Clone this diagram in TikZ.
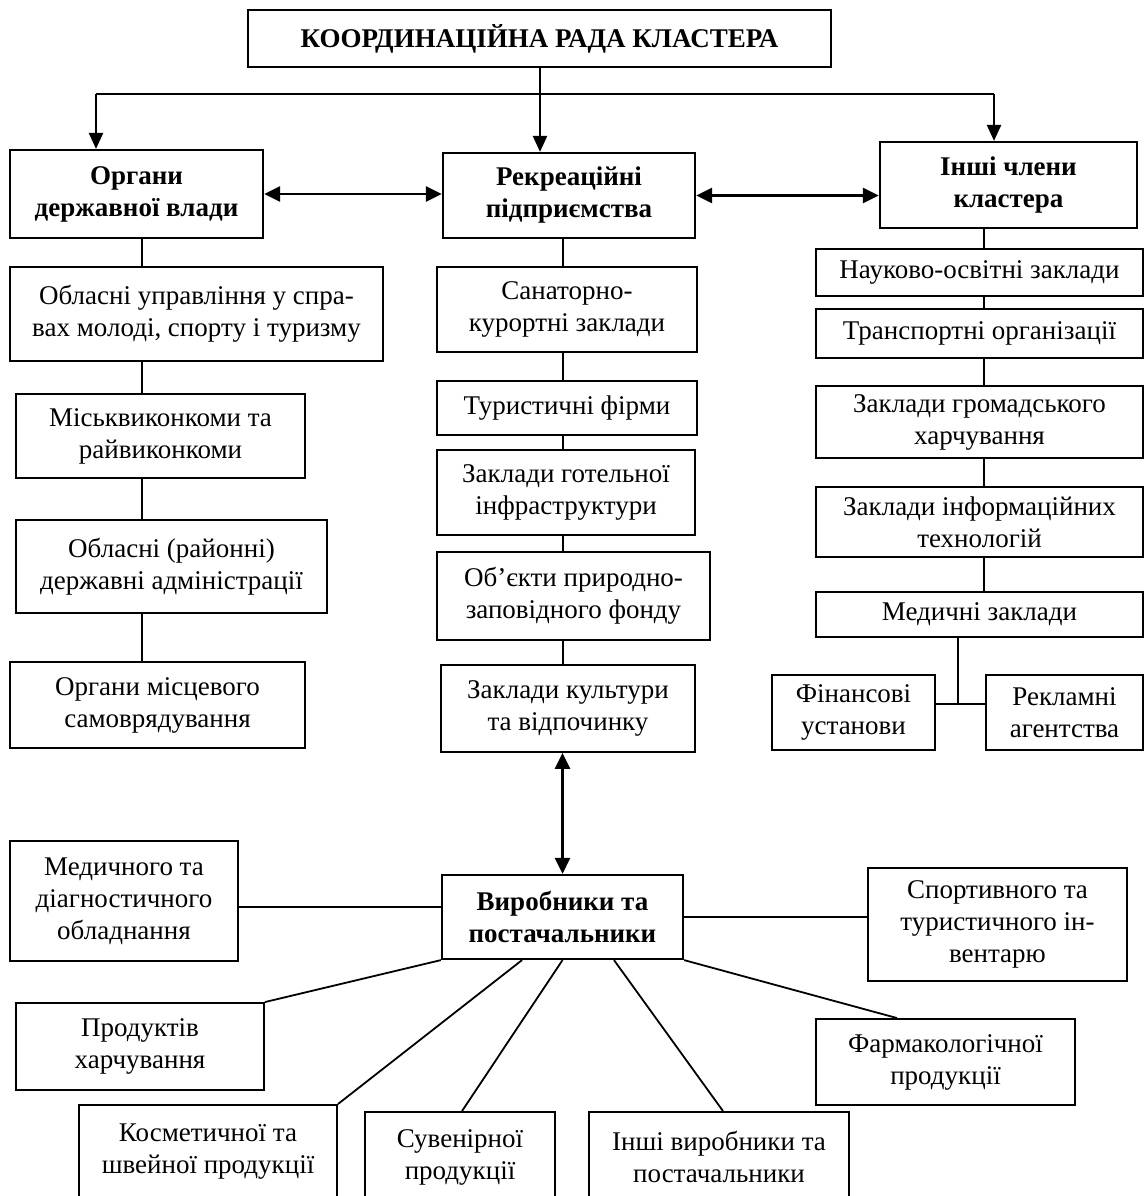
\documentclass[tikz,border=0pt]{standalone}
\usepackage{fontspec}
\setmainfont{Liberation Serif}
\usetikzlibrary{arrows.meta}
\begin{document}
\begin{tikzpicture}[x=1pt,y=-1pt,
  box/.style={draw, line width=1.9pt, align=center, inner sep=0pt, font=\fontsize{27}{32}\selectfont},
  bbox/.style={box, line width=2.2pt, font=\fontsize{27}{32}\selectfont\bfseries},
  ln/.style={line width=1.8pt},
  arr/.style={line width=2.4pt, -{Triangle[length=16pt,width=14pt]}},
  darr/.style={line width=2.8pt, {Triangle[length=16pt,width=15pt]}-{Triangle[length=16pt,width=15pt]}},
  btxt/.style={font=\fontsize{27}{32}\selectfont, align=center, inner sep=0pt},
]
\useasboundingbox (0,0) rectangle (1145,1196);

% top level
\node[bbox, minimum width=583pt, minimum height=57pt] (top) at (539.5,38.5) {КООРДИНАЦІЙНА РАДА КЛАСТЕРА};
\node[bbox, minimum width=253pt, minimum height=88pt] (og) at (136.5,194) {Органи\\державної влади};
\node[bbox, minimum width=252pt, minimum height=85pt] (rp) at (569,195.5) {Рекреаційні\\підприємства};
\node[bbox, minimum width=257pt, minimum height=86pt] (oth) at (1008.5,185) {Інші члени\\кластера};

\coordinate (bl) at (96,94);
\coordinate (bm) at (540,94);
\coordinate (brt) at (994,94);
\draw[ln, line width=2.2pt] (top.south -| bm) -- (bm);
\draw[ln, line width=2.2pt] (bl) -- (brt);
\draw[arr] (bl) -- (bl |- og.north);
\draw[arr] (bm) -- (bm |- rp.north);
\draw[arr] (brt) -- (brt |- oth.north);
\draw[darr] (og.east) -- (og.east -| rp.west);
\draw[darr] (rp.east) -- (rp.east -| oth.west);

% left column
\node[box, minimum width=373pt, minimum height=94pt] (l1) at (196.5,314) {Обласні управління у спра-\\вах молоді, спорту і туризму};
\node[box, minimum width=289pt, minimum height=84pt] (l2) at (160.5,436) {Міськвиконкоми та\\райвиконкоми};
\node[box, minimum width=311pt, minimum height=93pt] (l3) at (171.5,566.5) {Обласні (районні)\\державні адміністрації};
\node[box, minimum width=295pt, minimum height=86pt] (l4) at (157.5,705) {Органи місцевого\\самоврядування};
\coordinate (xl) at (142,0);
\draw[ln] (og.south -| xl) -- (l1.north -| xl);
\draw[ln] (l1.south -| xl) -- (l2.north -| xl);
\draw[ln] (l2.south -| xl) -- (l3.north -| xl);
\draw[ln] (l3.south -| xl) -- (l4.north -| xl);

% middle column
\node[box, minimum width=260pt, minimum height=85pt] (m1) at (567,309.5) {Санаторно-\\курортні заклади};
\node[box, minimum width=260pt, minimum height=54pt] (m2) at (567,408) {Туристичні фірми};
\node[box, minimum width=258pt, minimum height=85pt] (m3) at (566,492.5) {Заклади готельної\\інфраструктури};
\node[box, minimum width=273pt, minimum height=88pt] (m4) at (573.5,596) {Об’єкти природно-\\заповідного фонду};
\node[box, minimum width=254pt, minimum height=87pt] (m5) at (568,708.5) {Заклади культури\\та відпочинку};
\coordinate (xm) at (563,0);
\draw[ln] (rp.south -| xm) -- (m1.north -| xm);
\draw[ln] (m1.south -| xm) -- (m2.north -| xm);
\draw[ln] (m2.south -| xm) -- (m3.north -| xm);
\draw[ln] (m3.south -| xm) -- (m4.north -| xm);
\draw[ln] (m4.south -| xm) -- (m5.north -| xm);

% right column
\node[box, minimum width=327pt, minimum height=47pt] (r1) at (979.5,272.5) {Науково-освітні заклади};
\node[box, minimum width=327pt, minimum height=49pt] (r2) at (979.5,333.5) {Транспортні організації};
\node[box, minimum width=327pt, minimum height=72pt] (r3) at (979.5,422) {Заклади громадського\\харчування};
\node[box, minimum width=327pt, minimum height=70pt] (r4) at (979.5,522) {Заклади інформаційних\\технологій};
\node[box, minimum width=327pt, minimum height=45pt] (r5) at (979.5,614.5) {Медичні заклади};
\node[box, minimum width=163pt, minimum height=75pt] (fin) at (853.5,712.5) {Фінансові\\установи};
\node[box, minimum width=157pt, minimum height=75pt] (rek) at (1064.5,712.5) {Рекламні\\агентства};
\coordinate (xr) at (984,0);
\draw[ln] (oth.south -| xr) -- (r1.north -| xr);
\draw[ln] (r1.south -| xr) -- (r2.north -| xr);
\draw[ln] (r2.south -| xr) -- (r3.north -| xr);
\draw[ln] (r3.south -| xr) -- (r4.north -| xr);
\draw[ln] (r4.south -| xr) -- (r5.north -| xr);
\coordinate (jn) at (958,704);
\draw[ln] (r5.south -| jn) -- (jn);
\draw[ln] (fin.east |- jn) -- (rek.west |- jn);

% bottom
\node[bbox, minimum width=241pt, minimum height=84pt] (vp) at (562.5,917) {Виробники та\\постачальники};
\draw[darr] (m5.south -| vp.north) -- (vp.north);
\node[box, minimum width=228pt, minimum height=120pt] (med) at (124,901) {Медичного та\\діагностичного\\обладнання};
\node[box, minimum width=259pt, minimum height=113pt] (spt) at (997.5,924.5) {Спортивного та\\туристичного ін-\\вентарю};
\node[box, minimum width=248pt, minimum height=87pt] (prd) at (140,1046.5) {Продуктів\\харчування};
\node[box, minimum width=259pt, minimum height=86pt] (frm) at (945.5,1062) {Фармакологічної\\продукції};
\node[box, minimum width=258pt, minimum height=110pt] (kos) at (208,1160) {};
\node[box, minimum width=190pt, minimum height=103pt] (suv) at (460,1163.5) {};
\node[box, minimum width=260pt, minimum height=103pt] (ins) at (719,1163.5) {};
\node[btxt] (kost) at (208,1152) {Косметичної та\\швейної продукції};
\node[btxt] (suvt) at (460,1157) {Сувенірної\\продукції};
\node[btxt] (inst) at (719,1157) {Інші виробники та\\постачальники};

\coordinate (ym) at (0,907);
\draw[ln] (med.east |- ym) -- (vp.west |- ym);
\draw[ln] (vp.east) -- (vp.east -| spt.west);
\draw[ln] (vp.south west) -- (prd.north east);
\coordinate (k1) at (522,0);
\draw[ln] (vp.south -| k1) -- (kos.north east);
\coordinate (s1) at (462,0);
\draw[ln] (vp.south) -- (suv.north -| s1);
\coordinate (i1) at (614,0);
\coordinate (i2) at (723,0);
\draw[ln] (vp.south -| i1) -- (ins.north -| i2);
\coordinate (f1) at (897,0);
\draw[ln] (vp.south east) -- (frm.north -| f1);
\end{tikzpicture}
\end{document}
